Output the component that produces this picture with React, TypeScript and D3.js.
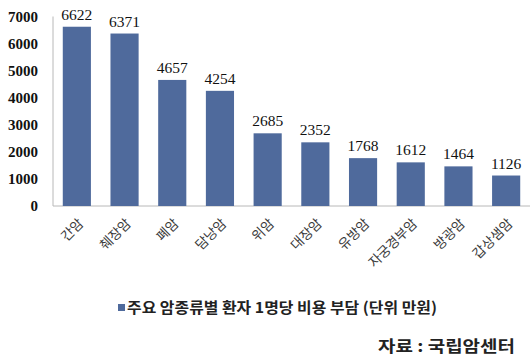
import React from "react";
import * as d3 from "d3";

const categories = ["간암", "췌장암", "폐암", "담낭암", "위암", "대장암", "유방암", "자궁경부암", "방광암", "갑상샘암"];
const values = [6622, 6371, 4657, 4254, 2685, 2352, 1768, 1612, 1464, 1126];
const yTicks = [0, 1000, 2000, 3000, 4000, 5000, 6000, 7000];
const legendLabel = "주요 암종류별 환자 1명당 비용 부담 (단위 만원)";
const sourceLabel = "자료 : 국립암센터";

const W = 530;
const H = 358;
const BAR = "#4F6A9C";
const KR = "'Noto Sans CJK KR', sans-serif";
const SERIF = "'Liberation Serif', 'DejaVu Serif', serif";

export default function App() {
  const x = d3.scaleBand<string>().domain(categories).range([53, 530]).paddingInner(0.41).paddingOuter(0.205);
  const y = d3.scaleLinear().domain([0, 7000]).range([206, 16.5]);
  return (
    <svg width={W} height={H} style={{ position: "absolute", left: 0, top: 0, background: "#fff" }}>
      <line x1={53} x2={530} y1={y(0)} y2={y(0)} stroke="#b8b8b8" />
      <line x1={53} x2={53} y1={y(7000)} y2={y(0)} stroke="#b8b8b8" />
      {yTicks.map((t) => (
        <text key={t} x={38} y={y(t)} dy="0.35em" textAnchor="end" fontFamily={SERIF} fontWeight="bold" fontSize={15} fill="#111">
          {t}
        </text>
      ))}
      {categories.map((c, i) => {
        const cx = (x(c) as number) + x.bandwidth() / 2;
        return (
          <g key={c}>
            <rect x={x(c)} y={y(values[i])} width={x.bandwidth()} height={y(0) - y(values[i])} fill={BAR} />
            <text x={cx} y={y(values[i]) - 7} textAnchor="middle" fontFamily={SERIF} fontSize={15.5} fill="#111">
              {values[i]}
            </text>
            <text
              transform={`translate(${cx + 4},${221}) rotate(-45)`}
              textAnchor="end"
              dy="0.35em"
              fontFamily={KR}
              fontSize={13.5}
              fill="#3a3a3a"
            >
              {c}
            </text>
          </g>
        );
      })}
      <rect x={118} y={304} width={7} height={7} fill={BAR} />
      <text x={127} y={307.5} dy="0.35em" fontFamily={KR} fontWeight="bold" fontSize={15} textLength={310} lengthAdjust="spacingAndGlyphs" fill="#222">
        {legendLabel}
      </text>
      <text x={515} y={346} dy="0.35em" textAnchor="end" fontFamily={KR} fontWeight="bold" fontSize={16} textLength={137} lengthAdjust="spacingAndGlyphs" fill="#222">
        {sourceLabel}
      </text>
    </svg>
  );
}
